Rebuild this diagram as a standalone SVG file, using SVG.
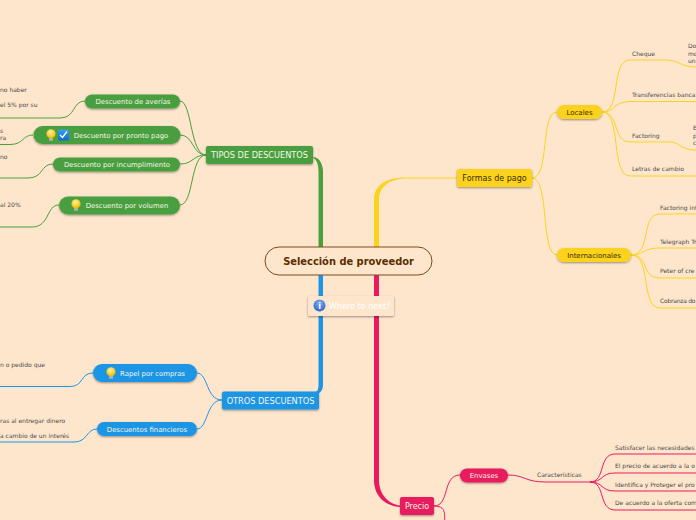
<svg xmlns="http://www.w3.org/2000/svg" width="696" height="520" viewBox="0 0 696 520">
<defs>
<style>
text{font-family:"DejaVu Sans",Verdana,sans-serif}
.g{stroke:#4a9f3f}.y{stroke:#fbd31c}.b{stroke:#1b95e5}.r{stroke:#e91a5e}
#connectors path{fill:none;stroke-width:1}
#connectors path.f{stroke:none}
.s{font-size:6px;fill:#4a4a4a}
.w{font-size:6.900px;fill:#f6f6e6;text-anchor:middle}
.k{font-size:7px;fill:#3a2a00;text-anchor:middle}
.l{font-size:8.200px;text-anchor:middle;fill:#f6f6e6}
.m{font-size:8px;text-anchor:middle}
</style>
<filter id="sh" x="-10%" y="-20%" width="120%" height="150%"><feDropShadow dx="0" dy="1" stdDeviation="0.8" flood-color="#000" flood-opacity="0.4"/></filter>
<radialGradient id="bulb" cx="0.45" cy="0.35" r="0.6"><stop offset="0" stop-color="#fff6a0"/><stop offset="1" stop-color="#f5b800"/></radialGradient>
<linearGradient id="chk" x1="0" y1="0" x2="0" y2="1"><stop offset="0" stop-color="#3aa0f0"/><stop offset="1" stop-color="#0a6cc8"/></linearGradient>
<radialGradient id="inf" cx="0.5" cy="0.3" r="0.7"><stop offset="0" stop-color="#7fb0f5"/><stop offset="1" stop-color="#2a62d0"/></radialGradient>
<g id="bulbi"><circle cx="0" cy="-1.200" r="4.600" fill="url(#bulb)"/><rect x="-2" y="3" width="4" height="2.800" rx="0.800" fill="#b5b5a5"/></g>
</defs>
<rect width="696" height="520" fill="#fee6cd"/>
<g id="connectors">
<path class="f" style="fill:#4a9f3f" d="M318.500 247V172C318.500 165 317 159.500 313 158L314 157C320 158 323 165 323 172V247Z"/>
<path class="f" style="fill:#fbd31c" d="M374 247V200C374 186 385 177.500 405 177.500H457V178.500H405C388 179 379 188 379 200V247Z"/>
<path class="f" style="fill:#1b95e5" d="M318.500 275V385C318.500 389 317.500 391 316 392L318 394C321.500 392 323 389 323 385V275Z"/>
<path class="f" style="fill:#e91a5e" d="M374 275V480C374 496 385 506 400 507V505.500C389 504 379 495 379 480V275Z"/>
<path class="g" d="M206 155C190 155 192 101 180 101M206 155C192 155 194 135 180 135M206 155C192 155 194 164 180 164M206 155C190 155 194 205 180 205"/>
<path class="g" d="M85 101C72 101 76 118 60 118H0M33 135C22 135 24 144.500 10 144.500H0M53 164C40 164 44 178 28 178H0M59 205C46 205 50 227 32 227H0"/>
<path class="y" d="M532 178C550 178 540 112 557 112M532 178C550 178 540 255 557 255"/>
<path class="y" d="M602 112C622 112 610 60 630 60H665C680 60 680 67 696 67M602 112C616 112 612 101.500 632 101.500H696M602 112C620 112 612 142 630 142H670C680 142 680 150 696 150M602 112C622 112 610 176 630 176H696"/>
<path class="y" d="M631 255C652 255 640 214 660 214H696M631 255C645 255 642 248 660 248H696M631 255C650 255 640 278 660 278H696M631 255C652 255 640 308 660 308H696"/>
<path class="b" d="M222 400C206 400 208 373 197 373M222 400C206 400 208 429 197 429"/>
<path class="b" d="M93 373C80 373 84 386.500 70 386.500H0M97 429C86 429 88 442 74 442H0"/>
<path class="r" d="M434 506C450 506 442 475 460 475M434 506C450 506 442 520 446 525M508 475C525 475 525 482 545 482H590"/>
<path class="r" d="M590 482C606 482 598 454 615 454H696M590 482C604 482 600 473 615 473H696M590 482C604 482 600 491 615 491H696M590 482C606 482 598 510 615 510H696"/>
</g>
<g id="root"><rect x="265" y="247" width="167" height="28" rx="14" fill="#fee6cd" stroke="#7a4a1a" stroke-width="1"/><text x="348.500" y="264.500" text-anchor="middle" font-size="9.900" font-weight="700" fill="#5a2e00">Selección de proveedor</text></g>
<g id="where"><rect x="308" y="296" width="86" height="20" rx="2" fill="#fee6cd" filter="url(#sh)"/><circle cx="319.500" cy="305.500" r="6" fill="url(#inf)"/><text x="319.500" y="308.500" text-anchor="middle" font-size="8" font-weight="700" fill="#fff">i</text><text x="359.500" y="308.500" text-anchor="middle" font-size="8.100" fill="#fff">Where to next?</text></g>
<g id="tipos"><rect x="206" y="146" width="107" height="18" rx="2" fill="#4a9f3f" filter="url(#sh)"/><text class="l" x="259.500" y="158">TIPOS DE DESCUENTOS</text></g>
<g id="otros"><rect x="222" y="391.500" width="97" height="18" rx="2" fill="#1b95e5" filter="url(#sh)"/><text class="l" x="270.500" y="404">OTROS DESCUENTOS</text></g>
<g id="formas"><rect x="457" y="169" width="75" height="18" rx="2" fill="#fbd31c" filter="url(#sh)"/><text class="m" x="494.500" y="181" fill="#3a2a00">Formas de pago</text></g>
<g id="precio"><rect x="400" y="497" width="34" height="18" rx="2" fill="#e91a5e" filter="url(#sh)"/><text class="m" x="417" y="509" fill="#f6f6e6">Precio</text></g>
<g id="averias"><rect x="85" y="94.500" width="95" height="14" rx="7" fill="#4a9f3f" filter="url(#sh)"/><text class="w" x="133" y="104">Descuento de averías</text></g>
<g id="pronto"><rect x="33.500" y="126" width="147" height="18" rx="9" fill="#4a9f3f" filter="url(#sh)"/><use href="#bulbi" x="51" y="135"/><rect x="58" y="129.500" width="11" height="11" rx="1.500" fill="url(#chk)"/><path d="M60 135l2.500 2.500l4.500-6" fill="none" stroke="#fff" stroke-width="1.300"/><text class="w" x="121" y="137.500">Descuento por pronto pago</text></g>
<g id="incumplimiento"><rect x="53" y="157.500" width="127" height="14" rx="7" fill="#4a9f3f" filter="url(#sh)"/><text class="w" x="117" y="167">Descuento por incumplimiento</text></g>
<g id="volumen"><rect x="59" y="196.500" width="121" height="18" rx="9" fill="#4a9f3f" filter="url(#sh)"/><use href="#bulbi" x="76" y="205"/><text class="w" x="127" y="208">Descuento por volumen</text></g>
<g id="rapel"><rect x="93" y="364" width="104" height="18" rx="9" fill="#1b95e5" filter="url(#sh)"/><use href="#bulbi" x="111" y="373"/><text class="w" x="152.500" y="376">Rapel por compras</text></g>
<g id="financieros"><rect x="97" y="422" width="100" height="14" rx="7" fill="#1b95e5" filter="url(#sh)"/><text class="w" x="147" y="432">Descuentos financieros</text></g>
<g id="locales"><rect x="557" y="105" width="45" height="14" rx="7" fill="#fbd31c" filter="url(#sh)"/><text class="k" x="579.500" y="115">Locales</text></g>
<g id="internacionales"><rect x="557" y="248" width="74" height="14" rx="7" fill="#fbd31c" filter="url(#sh)"/><text class="k" x="594" y="258">Internacionales</text></g>
<g id="envases"><rect x="460" y="468.500" width="48" height="14" rx="7" fill="#e91a5e" filter="url(#sh)"/><text class="w" x="484" y="478">Envases</text></g>
<g id="labels">
<text class="s" x="0" y="92">no haber</text><text class="s" x="0" y="107">el 5% por su</text>
<text class="s" x="0" y="133">s</text><text class="s" x="0" y="140">ra</text>
<text class="s" x="0" y="159">no</text><text class="s" x="0" y="207">al 20%</text>
<text class="s" x="0" y="367">n o pedido que</text><text class="s" x="0" y="423">ras al entregar dinero</text><text class="s" x="0" y="438">a cambio de un interés</text>
<text class="s" x="632" y="56">Cheque</text><text class="s" x="688" y="48">Do</text><text class="s" x="688" y="56">mo</text><text class="s" x="688" y="63">un</text>
<text class="s" x="632" y="97">Transferencias banca</text><text class="s" x="632" y="138">Factoring</text><text class="s" x="693" y="130">E</text><text class="s" x="693" y="138">p</text><text class="s" x="693" y="145">c</text><text class="s" x="632" y="171">Letras de cambio</text>
<text class="s" x="660" y="210">Factoring int</text><text class="s" x="660" y="244">Telegraph Tr</text><text class="s" x="660" y="273">Peter of cre</text><text class="s" x="660" y="303" textLength="35.500">Cobranza do</text>
<text class="s" x="537" y="477">Características</text>
<text class="s" x="615" y="450">Satisfacer las necesidades</text><text class="s" x="615" y="468">El precio de acuerdo a la o</text><text class="s" x="615" y="487">Identifica y Proteger el pro</text><text class="s" x="615" y="505">De acuerdo a la oferta com</text>
</g>
</svg>
